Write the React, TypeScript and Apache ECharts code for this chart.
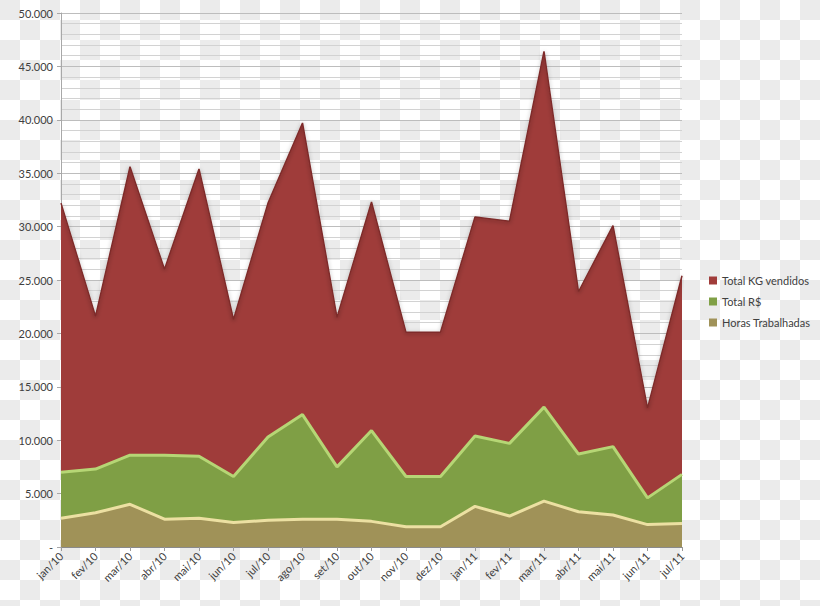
import React, { useEffect, useRef } from "react";
import * as echarts from "echarts";

const categories = [
  "jan/10", "fev/10", "mar/10", "abr/10", "mai/10", "jun/10", "jul/10", "ago/10", "set/10", "out/10",
  "nov/10", "dez/10", "jan/11", "fev/11", "mar/11", "abr/11", "mai/11", "jun/11", "jul/11",
];

const totalKg = [
  32200, 21600, 35600, 26000, 35400, 21300, 32200, 39700, 21500, 32300,
  20100, 20100, 30900, 30500, 46400, 23900, 30100, 13000, 25400,
];

const totalRS = [
  7000, 7300, 8600, 8600, 8500, 6600, 10300, 12400, 7500, 10900,
  6600, 6600, 10400, 9700, 13100, 8700, 9400, 4600, 6800,
];

const horas = [
  2700, 3200, 4000, 2600, 2700, 2300, 2500, 2600, 2600, 2400,
  1900, 1900, 3800, 2900, 4300, 3300, 3000, 2100, 2200,
];

const seriesNames = ["Total KG vendidos", "Total R$", "Horas Trabalhadas"];

const FONT = "Lato, 'Open Sans', sans-serif";

function fmt(v: number): string {
  if (v === 0) return "-";
  return String(Math.round(v)).replace(/\B(?=(\d{3})+(?!\d))/g, ".");
}

export default function App() {
  const ref = useRef<HTMLDivElement>(null);

  useEffect(() => {
    if (!ref.current) return;
    const chart = echarts.init(ref.current, undefined, { renderer: "svg" });
    chart.setOption({
      animation: false,
      backgroundColor: "transparent",
      textStyle: { fontFamily: FONT },
      grid: { left: 61, right: 138, top: 13, bottom: 59, containLabel: false },
      legend: {
        orient: "vertical",
        left: 704,
        top: 270,
        itemWidth: 8,
        itemHeight: 8,
        itemGap: 10,
        icon: "rect",
        data: seriesNames,
        textStyle: { color: "#404040", fontSize: 11, fontFamily: FONT },
      },
      xAxis: {
        type: "category",
        data: categories,
        boundaryGap: false,
        axisLine: { show: true, lineStyle: { color: "#8a8a8a", width: 1 } },
        axisTick: { show: true, length: 4, lineStyle: { color: "#9a9a9a" } },
        axisLabel: {
          rotate: 45,
          interval: 0,
          margin: 7,
          color: "#404040",
          fontSize: 11,
          fontFamily: FONT,
        },
        splitLine: { show: false },
      },
      yAxis: {
        type: "value",
        min: 0,
        max: 50000,
        interval: 5000,
        axisLine: { show: true, lineStyle: { color: "#a8a8a8" } },
        axisTick: { show: true, length: 4, lineStyle: { color: "#a8a8a8" } },
        axisLabel: {
          formatter: (v: number) => fmt(v),
          color: "#404040",
          fontSize: 11,
          margin: 8,
          fontFamily: FONT,
        },
        splitLine: { show: true, lineStyle: { color: "#bdbdbd", width: 1 } },
        minorTick: { show: false, splitNumber: 5 },
        minorSplitLine: { show: true, lineStyle: { color: "#d2d2d2", width: 1 } },
      },
      series: [
        {
          name: seriesNames[0],
          type: "line",
          data: totalKg,
          showSymbol: false,
          z: 2,
          itemStyle: { color: "#a03c3a" },
          lineStyle: { color: "#7e2c2a", width: 1.5, shadowColor: "rgba(0,0,0,0.35)", shadowBlur: 4, shadowOffsetY: 1 },
          areaStyle: { color: "#9f3c3a", opacity: 1 },
        },
        {
          name: seriesNames[1],
          type: "line",
          data: totalRS,
          showSymbol: false,
          z: 3,
          itemStyle: { color: "#80a046" },
          lineStyle: { color: "#b6d675", width: 3 },
          areaStyle: { color: "#7f9f45", opacity: 1 },
        },
        {
          name: seriesNames[2],
          type: "line",
          data: horas,
          showSymbol: false,
          z: 4,
          itemStyle: { color: "#a09259" },
          lineStyle: { color: "#ece0a2", width: 3 },
          areaStyle: { color: "#a09258", opacity: 1 },
        },
      ],
    });
    return () => chart.dispose();
  }, []);

  return (
    <div
      style={{
        position: "absolute",
        left: 0,
        top: 0,
        width: 820,
        height: 606,
        backgroundImage:
          "conic-gradient(#ffffff 0 25%, #ebebeb 0 50%, #ffffff 0 75%, #ebebeb 0)",
        backgroundSize: "40px 40px",
      }}
    >
      <div ref={ref} style={{ width: 820, height: 606 }} />
    </div>
  );
}
